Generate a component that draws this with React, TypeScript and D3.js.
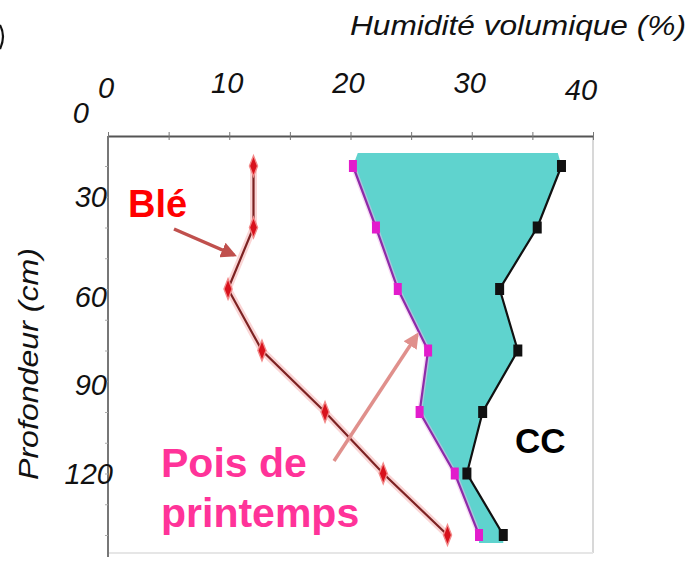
import React, { useEffect, useRef } from 'react';
import * as d3 from 'd3';

// profondeur (cm) des mesures
const depths = [20, 40, 60, 80, 100, 120, 140];
// humidité volumique (%)
const ble = [12.0, 12.0, 9.9, 12.7, 17.9, 22.7, 28.0];
const pois = [20.2, 22.1, 23.9, 26.4, 25.7, 28.6, 30.6];
const cc = [37.4, 35.4, 32.3, 33.8, 30.9, 29.6, 32.6];

const xTickLabels = [0, 10, 20, 30, 40];
const yTickLabels = [30, 60, 90, 120];

const W = 693;
const H = 562;
const FONT = '"Liberation Sans", Arial, sans-serif';

const App: React.FC = () => {
  const svgRef = useRef<SVGSVGElement>(null);

  useEffect(() => {
    if (!svgRef.current) return;
    const svg = d3.select(svgRef.current);
    svg.selectAll('*').remove();

    const x = d3.scaleLinear().domain([0, 40]).range([108, 593]);
    const y = d3.scaleLinear().domain([20, 140]).range([166, 535]);
    const top = 136;
    const bottom = 553;

    const defs = svg.append('defs');
    const arrowHead = (id: string, color: string) =>
      defs.append('marker')
        .attr('id', id)
        .attr('viewBox', '0 0 10 10')
        .attr('refX', 8)
        .attr('refY', 5)
        .attr('markerWidth', 4.5)
        .attr('markerHeight', 4.5)
        .attr('orient', 'auto')
        .append('path')
        .attr('d', 'M0,0 L10,5 L0,10 z')
        .attr('fill', color);
    arrowHead('arrBle', '#c0504d');
    arrowHead('arrPois', '#e0908c');

    // cadre clair
    svg.append('line').attr('x1', x(40)).attr('x2', x(40)).attr('y1', top).attr('y2', bottom)
      .attr('stroke', '#d8d8d8').attr('stroke-width', 2);
    svg.append('line').attr('x1', x(0)).attr('x2', x(40)).attr('y1', bottom).attr('y2', bottom)
      .attr('stroke', '#e6e6e6').attr('stroke-width', 2);

    // zone entre pois et CC
    const rows = depths.map((d, i) => ({ d, p: pois[i], c: cc[i] }));
    const last = rows.length - 1;
    const areaRows = [
      { d: 15.8, p: pois[0] + 0.4, c: cc[0] - 0.3 },
      ...rows,
      { d: 142.6, p: pois[last], c: cc[last] },
    ];
    svg.append('path')
      .datum(areaRows)
      .attr('d', d3.area<any>().x0(r => x(r.p)).x1(r => x(r.c)).y(r => y(r.d)))
      .attr('fill', '#5fd3ce');

    // axe du haut
    const gx = svg.append('g').attr('transform', `translate(0,${top})`)
      .call(d3.axisTop(x).tickValues(d3.range(0, 41, 5)).tickSize(5).tickSizeOuter(0).tickFormat(() => ''));
    gx.select('.domain').attr('stroke', '#555').attr('stroke-width', 2);
    gx.selectAll('.tick line').attr('stroke', '#777').attr('y2', 4).attr('y1', -4);

    gx.selectAll('.xlab')
      .data(xTickLabels)
      .enter()
      .append('text')
      .attr('x', d => x(d) - (d === 40 ? 12 : 2))
      .attr('y', d => (d === 40 ? -36 : d === 0 ? -38 : -43))
      .attr('text-anchor', 'middle')
      .attr('font-family', FONT)
      .attr('font-style', 'italic')
      .attr('font-size', 29)
      .attr('fill', '#111')
      .text(d => d);

    // axe gauche
    svg.append('line').attr('x1', x(0)).attr('x2', x(0)).attr('y1', top).attr('y2', bottom + 4)
      .attr('stroke', '#777').attr('stroke-width', 2);
    const gy = svg.append('g').attr('transform', `translate(${x(0)},0)`)
      .call(d3.axisLeft(y).tickValues(d3.range(20, 141, 10)).tickSize(3).tickSizeOuter(0).tickFormat(() => ''));
    gy.select('.domain').remove();
    gy.selectAll('.tick line').attr('stroke', '#aaa');

    svg.selectAll('.ylab')
      .data(yTickLabels)
      .enter()
      .append('text')
      .attr('x', d => (d === 120 ? 113 : 107))
      .attr('y', d => y(d) + 10 + (d === 60 ? 8 : d === 90 ? 4 : 0))
      .attr('text-anchor', 'end')
      .attr('font-family', FONT)
      .attr('font-style', 'italic')
      .attr('font-size', 29)
      .attr('fill', '#111')
      .text(d => d);
    svg.append('text')
      .attr('x', 89).attr('y', y(0) + 18)
      .attr('text-anchor', 'end')
      .attr('font-family', FONT).attr('font-style', 'italic').attr('font-size', 29).attr('fill', '#111')
      .text('0');

    // Blé
    const bleRows = depths.map((d, i) => ({ d, v: ble[i] }));
    const lineV = d3.line<any>().x(r => x(r.v)).y(r => y(r.d));
    svg.append('path').datum(bleRows).attr('d', lineV)
      .attr('fill', 'none').attr('stroke', '#f6b3b3').attr('stroke-width', 7).attr('opacity', 0.55);
    svg.append('path').datum(bleRows).attr('d', lineV)
      .attr('fill', 'none').attr('stroke', '#7d2323').attr('stroke-width', 2.2);
    svg.selectAll('.bleMark')
      .data(bleRows)
      .enter()
      .append('path')
      .attr('transform', r => `translate(${x(r.v)},${y(r.d)}) scale(0.85,1.25)`)
      .attr('d', d3.symbol().type(d3.symbolDiamond).size(80)())
      .attr('fill', '#d8121c')
      .attr('stroke', '#f28a8a')
      .attr('stroke-width', 1.5);

    // Pois de printemps
    const poisRows = depths.map((d, i) => ({ d, v: pois[i] }));
    svg.append('path').datum(poisRows).attr('d', lineV)
      .attr('fill', 'none').attr('stroke', '#f2b6ea').attr('stroke-width', 5).attr('opacity', 0.5);
    svg.append('path').datum(poisRows).attr('d', lineV)
      .attr('fill', 'none').attr('stroke', '#8e2aa8').attr('stroke-width', 2.2);
    svg.selectAll('.poisMark')
      .data(poisRows)
      .enter()
      .append('rect')
      .attr('x', r => x(r.v) - 4)
      .attr('y', r => y(r.d) - 6)
      .attr('width', 8)
      .attr('height', 12)
      .attr('fill', '#e21ccc');

    // CC
    const ccRows = depths.map((d, i) => ({ d, v: cc[i] }));
    svg.append('path').datum(ccRows).attr('d', lineV)
      .attr('fill', 'none').attr('stroke', '#111').attr('stroke-width', 2.2);
    svg.selectAll('.ccMark')
      .data(ccRows)
      .enter()
      .append('rect')
      .attr('x', r => x(r.v) - 4.5)
      .attr('y', r => y(r.d) - 6)
      .attr('width', 9)
      .attr('height', 12)
      .attr('fill', '#111');

    // flèches
    svg.append('line').attr('x1', 174).attr('y1', 229).attr('x2', 234).attr('y2', 255)
      .attr('stroke', '#c0504d').attr('stroke-width', 3.5).attr('marker-end', 'url(#arrBle)');
    svg.append('line').attr('x1', 334).attr('y1', 461).attr('x2', 417).attr('y2', 335)
      .attr('stroke', '#e0908c').attr('stroke-width', 3.5).attr('marker-end', 'url(#arrPois)');

    // textes
    svg.append('text').attr('x', 128).attr('y', 217)
      .attr('font-family', FONT).attr('font-weight', 'bold').attr('font-size', 38).attr('fill', '#ff0000')
      .text('Blé');
    svg.append('text').attr('x', 161).attr('y', 477)
      .attr('font-family', FONT).attr('font-weight', 'bold').attr('font-size', 41).attr('fill', '#ff3399')
      .text('Pois de');
    svg.append('text').attr('x', 161).attr('y', 527)
      .attr('font-family', FONT).attr('font-weight', 'bold').attr('font-size', 41).attr('fill', '#ff3399')
      .text('printemps');
    svg.append('text').attr('x', 515).attr('y', 453)
      .attr('font-family', FONT).attr('font-weight', 'bold').attr('font-size', 35).attr('fill', '#000')
      .text('CC');

    svg.append('text').attr('x', 350).attr('y', 35)
      .attr('font-family', FONT).attr('font-style', 'italic').attr('font-size', 28).attr('fill', '#111')
      .attr('textLength', 336).attr('lengthAdjust', 'spacingAndGlyphs')
      .text('Humidité volumique (%)');
    // reste d'un glyphe coupé au bord gauche
    svg.append('path')
      .attr('d', 'M0,25 Q6,36 0,49')
      .attr('fill', 'none').attr('stroke', '#111').attr('stroke-width', 2.2);
    svg.append('text')
      .attr('transform', 'translate(38,364) rotate(-90)')
      .attr('text-anchor', 'middle')
      .attr('font-family', FONT).attr('font-style', 'italic').attr('font-size', 28).attr('fill', '#111')
      .attr('textLength', 232).attr('lengthAdjust', 'spacingAndGlyphs')
      .text('Profondeur (cm)');
  }, []);

  return (
    <svg
      ref={svgRef}
      width={W}
      height={H}
      style={{ position: 'absolute', left: 0, top: 0, background: '#fff', display: 'block' }}
    />
  );
};

export default App;
